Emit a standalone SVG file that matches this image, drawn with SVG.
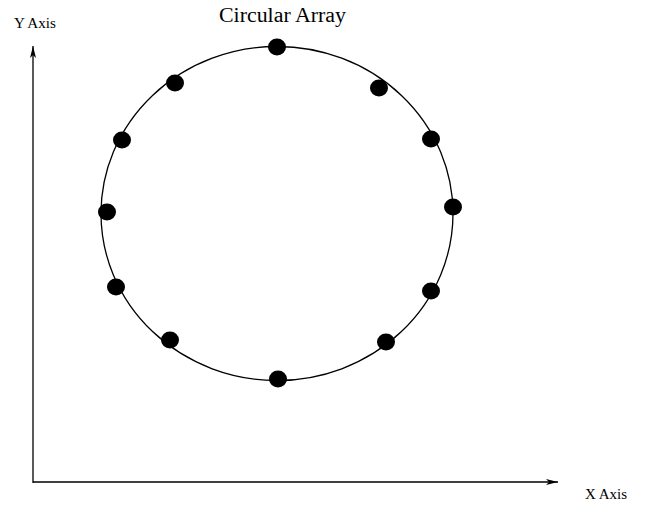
<svg xmlns="http://www.w3.org/2000/svg" width="645" height="506" viewBox="0 0 645 506">
<style>
.lbl{font-family:"Liberation Serif","Times New Roman",serif;fill:#000}
.dot{fill:#000}
.axis{stroke:#000;stroke-width:1.3;fill:none}
</style>
<defs>
<marker id="arr" viewBox="0 0 12 6" refX="12" refY="3" markerWidth="12" markerHeight="6" markerUnits="userSpaceOnUse" orient="auto">
<path d="M0,0 L12,3 L0,6 L3,3 Z" fill="#000"/>
</marker>
</defs>
<rect width="645" height="506" fill="#fff"/>
<text class="lbl" x="219" y="22" font-size="20" textLength="127" lengthAdjust="spacingAndGlyphs">Circular Array</text>
<g id="connectors">
<line class="axis" x1="33" y1="483" x2="33" y2="46" marker-end="url(#arr)"/>
<line class="axis" x1="33" y1="482" x2="558" y2="482" marker-end="url(#arr)"/>
</g>
<text class="lbl" x="14" y="28" font-size="14" textLength="42" lengthAdjust="spacingAndGlyphs">Y Axis</text>
<text class="lbl" x="585" y="499" font-size="14" textLength="42" lengthAdjust="spacingAndGlyphs">X Axis</text>
<g id="circle">
<ellipse cx="277" cy="213.5" rx="176" ry="167" fill="none" stroke="#000" stroke-width="1.3"/>
</g>
<g id="dots">
<ellipse id="d1" class="dot" cx="277" cy="47" rx="9" ry="8.5"/>
<ellipse id="d2" class="dot" cx="175" cy="83" rx="9" ry="8.5"/>
<ellipse id="d3" class="dot" cx="379" cy="88" rx="9" ry="8.5"/>
<ellipse id="d4" class="dot" cx="122" cy="140" rx="9" ry="8.5"/>
<ellipse id="d5" class="dot" cx="431" cy="139" rx="9" ry="8.5"/>
<ellipse id="d6" class="dot" cx="107" cy="212" rx="9" ry="8.5"/>
<ellipse id="d7" class="dot" cx="453" cy="207" rx="9" ry="8.5"/>
<ellipse id="d8" class="dot" cx="116" cy="287" rx="9" ry="8.5"/>
<ellipse id="d9" class="dot" cx="431" cy="291" rx="9" ry="8.5"/>
<ellipse id="d10" class="dot" cx="170" cy="340" rx="9" ry="8.5"/>
<ellipse id="d11" class="dot" cx="386" cy="342" rx="9" ry="8.5"/>
<ellipse id="d12" class="dot" cx="278" cy="379" rx="9" ry="8.5"/>
</g>
</svg>
